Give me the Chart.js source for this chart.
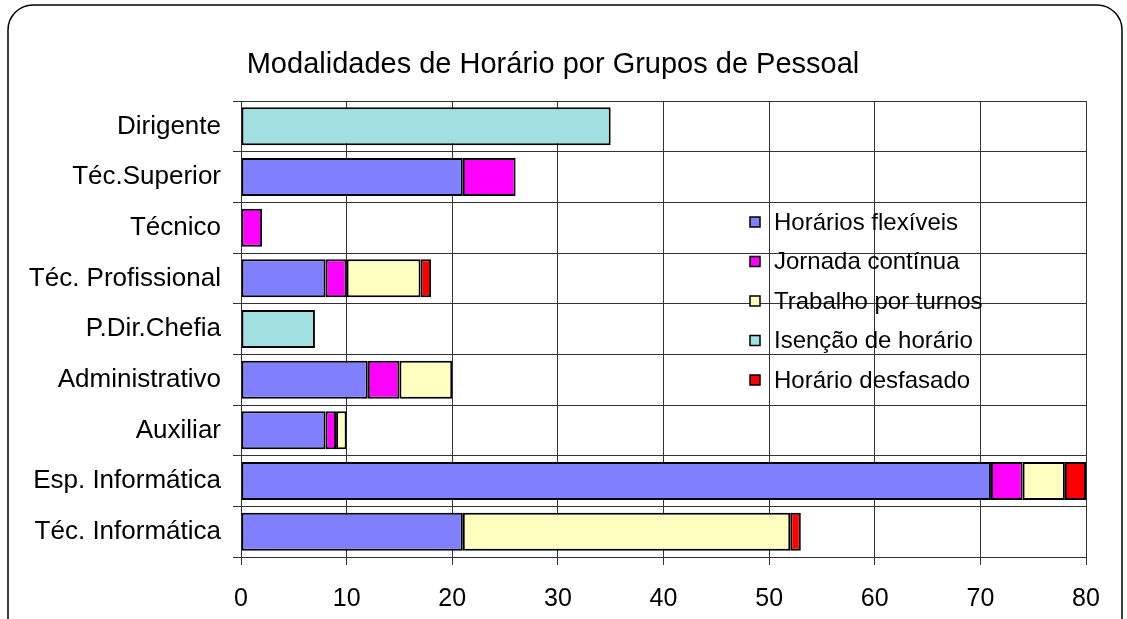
<!DOCTYPE html>
<html>
<head>
<meta charset="utf-8">
<script src="https://cdn.jsdelivr.net/npm/chart.js@4/dist/chart.umd.min.js"></script>
<style>
html,body{margin:0;padding:0;background:#fff;}
canvas{display:block;}
</style>
</head>
<body>
<canvas id="c" width="1127" height="619"></canvas>
<script>
const categories = ['Dirigente','Téc.Superior','Técnico','Téc. Profissional','P.Dir.Chefia','Administrativo','Auxiliar','Esp. Informática','Téc. Informática'];
const seriesNames = ['Horários flexíveis','Jornada contínua','Trabalho por turnos','Isenção de horário','Horário desfasado'];
const flexiveis = [null,21,null,8,null,12,8,71,21];
const jornada   = [null,5,2,2,null,3,1,3,null];
const turnos    = [null,null,null,7,null,5,1,4,31];
const isencao   = [35,null,null,null,7,null,null,null,null];
const desfasado = [null,null,null,1,null,null,null,2,1];
const xTicks = [0,10,20,30,40,50,60,70,80];
const colors = ['#8080FF','#FF00FF','#FFFFC0','#A0E0E0','#FF0000'];

const FONT = 'Liberation Sans, Arial, sans-serif';

const frame = {
  id: 'frame',
  beforeDraw(chart){
    const ctx = chart.ctx;
    ctx.save();
    ctx.fillStyle = '#fff';
    ctx.fillRect(0,0,chart.width,chart.height);
    ctx.strokeStyle = '#000';
    ctx.lineWidth = 1.5;
    const x=8,y=5,w=1114,h=660,r=25;
    ctx.beginPath();
    ctx.moveTo(x+r,y);
    ctx.lineTo(x+w-r,y);
    ctx.arcTo(x+w,y,x+w,y+r,r);
    ctx.lineTo(x+w,y+h);
    ctx.lineTo(x,y+h);
    ctx.lineTo(x,y+r);
    ctx.arcTo(x,y,x+r,y,r);
    ctx.stroke();
    ctx.restore();
  }
};

const insideLegend = {
  id: 'insideLegend',
  afterDraw(chart){
    const ctx = chart.ctx;
    ctx.save();
    ctx.font = '24px ' + FONT;
    ctx.textBaseline = 'middle';
    chart.data.datasets.forEach((ds,i)=>{
      const cy = 222 + i*39.5;
      ctx.fillStyle = ds.backgroundColor;
      ctx.fillRect(750, cy-5, 10, 10);
      ctx.strokeStyle = '#000';
      ctx.lineWidth = 1.5;
      ctx.strokeRect(750, cy-5, 10, 10);
      ctx.fillStyle = '#000';
      ctx.fillText(ds.label, 774, cy + 1);
    });
    ctx.restore();
  }
};

const data = {
  labels: categories,
  datasets: [flexiveis, jornada, turnos, isencao, desfasado].map((vals,i)=>({
    label: seriesNames[i],
    data: vals,
    backgroundColor: colors[i],
    borderColor: '#000',
    borderWidth: 2,
    borderSkipped: false,
    barPercentage: 0.75,
    categoryPercentage: 1.0
  }))
};

new Chart(document.getElementById('c'), {
  type: 'bar',
  data,
  options: {
    indexAxis: 'y',
    responsive: false,
    animation: false,
    devicePixelRatio: 1,
    layout: { padding: { left: 20, right: 41, top: 0, bottom: 0 } },
    plugins: {
      legend: { display: false },
      tooltip: { enabled: false },
      title: {
        display: true,
        text: 'Modalidades de Horário por Grupos de Pessoal',
        color: '#000',
        font: { family: FONT, size: 29, weight: 'normal', lineHeight: 1.2 },
        padding: { top: 47.6, bottom: 18.6 }
      }
    },
    scales: {
      x: {
        stacked: true,
        min: 0, max: 80,
        afterBuildTicks(scale){ scale.ticks = xTicks.map(v=>({value:v})); },
        ticks: { color:'#000', font:{family:FONT,size:25}, padding: 19 },
        grid: { color:'#333', lineWidth:1, tickLength:8, drawTicks:true },
        border: { color:'#333', width:1 },
        afterFit(scale){ scale.height = 62; }
      },
      y: {
        stacked: true,
        ticks: { color:'#000', font:{family:FONT,size:26}, padding: 12 },
        grid: { color:'#333', lineWidth:1, tickLength:8, offset:true },
        border: { color:'#333', width:1 },
        afterFit(scale){ scale.width = 221; }
      }
    }
  },
  plugins: [frame, insideLegend]
});
</script>
</body>
</html>
